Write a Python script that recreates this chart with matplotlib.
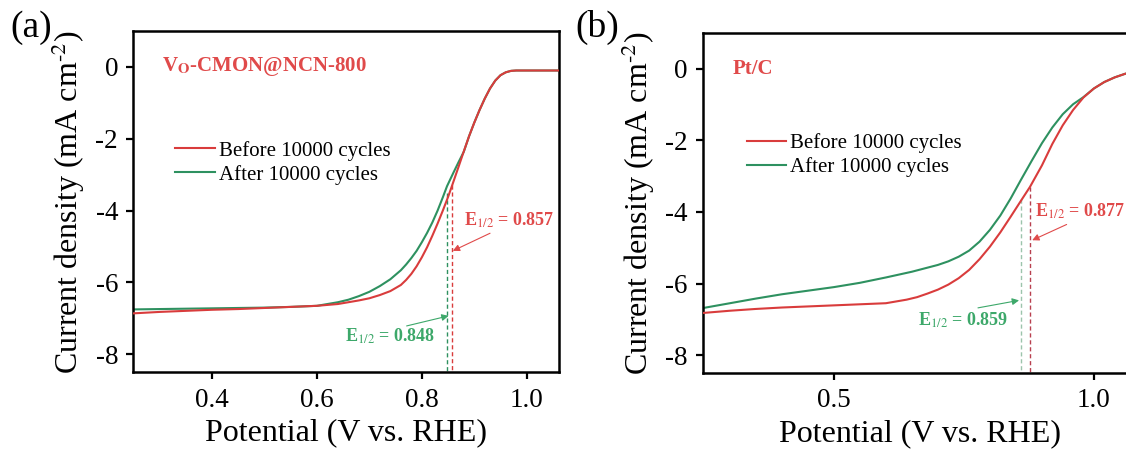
import matplotlib
matplotlib.use("Agg")
import matplotlib.pyplot as plt

plt.rcParams["font.family"] = ["Liberation Serif", "DejaVu Serif"]
plt.rcParams["mathtext.fontset"] = "stix"

RED = "#D93C3C"
GREEN = "#2E9160"
RED_TXT = "#E04A4A"
GREEN_TXT = "#3DA86A"

# (a) VO-CMON@NCN-800, LSV before / after 10000 cycles
a_v_before = [0.25, 0.30, 0.35, 0.40, 0.45, 0.50, 0.55, 0.60, 0.64, 0.68, 0.70, 0.72,
              0.74, 0.76, 0.77, 0.78, 0.79, 0.80, 0.81, 0.82, 0.83, 0.84, 0.85, 0.857,
              0.87, 0.88, 0.89, 0.90, 0.91, 0.92, 0.93, 0.94, 0.95, 0.96, 0.97, 0.98,
              1.00, 1.03, 1.062]
a_j_before = [-6.86, -6.82, -6.79, -6.76, -6.74, -6.71, -6.68, -6.65, -6.60, -6.50, -6.44, -6.35,
              -6.24, -6.07, -5.93, -5.76, -5.55, -5.30, -5.02, -4.70, -4.36, -4.00, -3.62, -3.33,
              -2.78, -2.35, -1.93, -1.55, -1.20, -0.88, -0.60, -0.38, -0.23, -0.15, -0.11, -0.10,
              -0.10, -0.10, -0.10]
a_v_after = [0.25, 0.30, 0.35, 0.40, 0.45, 0.50, 0.55, 0.60, 0.64, 0.66, 0.68, 0.70,
             0.72, 0.74, 0.76, 0.77, 0.78, 0.79, 0.80, 0.81, 0.82, 0.83, 0.84, 0.848,
             0.86, 0.87, 0.88, 0.89, 0.90, 0.91, 0.92, 0.93, 0.94, 0.95, 0.96, 0.97,
             0.98, 1.00, 1.03, 1.062]
a_j_after = [-6.75, -6.74, -6.73, -6.72, -6.71, -6.70, -6.68, -6.65, -6.55, -6.48, -6.38, -6.26,
             -6.10, -5.91, -5.66, -5.50, -5.32, -5.12, -4.88, -4.62, -4.33, -4.00, -3.63, -3.32,
             -2.95, -2.65, -2.36, -1.93, -1.55, -1.20, -0.88, -0.60, -0.38, -0.23, -0.15, -0.11,
             -0.10, -0.10, -0.10, -0.10]
a_e_half = {"before": 0.857, "after": 0.848}
a_drop_top = {"before": -3.3, "after": -3.5}

# (b) Pt/C
b_v_before = [0.25, 0.30, 0.35, 0.40, 0.45, 0.50, 0.55, 0.60, 0.64, 0.66, 0.68, 0.70,
              0.72, 0.74, 0.76, 0.78, 0.80, 0.82, 0.84, 0.86, 0.877, 0.90, 0.92, 0.94,
              0.96, 0.98, 1.00, 1.02, 1.04, 1.06, 1.083]
b_j_before = [-6.82, -6.76, -6.71, -6.67, -6.64, -6.61, -6.58, -6.55, -6.45, -6.38, -6.28, -6.17,
              -6.03, -5.85, -5.62, -5.32, -4.97, -4.57, -4.13, -3.68, -3.30, -2.70, -2.10, -1.58,
              -1.15, -0.80, -0.55, -0.37, -0.24, -0.14, -0.07]
b_v_after = [0.25, 0.30, 0.35, 0.40, 0.45, 0.50, 0.55, 0.60, 0.65, 0.70, 0.72, 0.74,
             0.76, 0.78, 0.80, 0.82, 0.84, 0.859, 0.88, 0.90, 0.92, 0.94, 0.96, 0.98,
             1.00, 1.02, 1.04, 1.06, 1.083]
b_j_after = [-6.68, -6.55, -6.42, -6.30, -6.20, -6.10, -5.98, -5.83, -5.67, -5.48, -5.38, -5.25,
             -5.08, -4.83, -4.50, -4.10, -3.62, -3.12, -2.58, -2.08, -1.64, -1.27, -0.99, -0.79,
             -0.55, -0.37, -0.24, -0.14, -0.07]
b_e_half = {"before": 0.877, "after": 0.859}
b_drop_top = {"before": -3.3, "after": -3.65}

Y_MIN, Y_MAX = -8.5, 1.0

fig = plt.figure(figsize=(11.26, 4.55), dpi=100)
ax_a = fig.add_axes([0.1184, 0.1818, 0.3783, 0.7501])
ax_b = fig.add_axes([0.6243, 0.1802, 0.3854, 0.7473])


def style_axes(ax, xlim, xticks):
    ax.set_xlim(*xlim)
    ax.set_ylim(Y_MIN, Y_MAX)
    ax.set_xticks(xticks)
    ax.set_yticks([0, -2, -4, -6, -8])
    ax.set_yticklabels(["0", "-2", "-4", "-6", "-8"])
    ax.tick_params(direction="out", length=5, width=1.6, labelsize=19.5, pad=6)
    for s in ax.spines.values():
        s.set_linewidth(1.8)
    ax.set_xlabel("Potential (V vs. RHE)", fontsize=23, labelpad=4)
    ax.set_ylabel(r"Current density (mA cm$^{\text{-}2}$)", fontsize=23, labelpad=6)


def draw_panel(ax, vb, jb, va, ja, e_half, drop_top, leg_xy, drop_colors):
    ax.plot(vb, jb, color=RED, lw=1.5, label="Before 10000 cycles", zorder=3)
    ax.plot(va, ja, color=GREEN, lw=1.5, label="After 10000 cycles", zorder=2)
    ax.plot([e_half["after"]] * 2, [drop_top["after"], Y_MIN], color=drop_colors[1],
            lw=1.0, ls=(0, (3, 2)), zorder=1)
    ax.plot([e_half["before"]] * 2, [drop_top["before"], Y_MIN], color=drop_colors[0],
            lw=1.0, ls=(0, (3, 2)), zorder=1)
    ax.legend(loc="center left", bbox_to_anchor=leg_xy, frameon=False, fontsize=15,
              handlelength=1.9, handletextpad=0.2, labelspacing=0.2,
              borderpad=0, borderaxespad=0)


def e_label(ax, txt_xy, tail, head, value, color):
    ax.text(txt_xy[0], txt_xy[1], "E$_{1/2}$ = %.3f" % value, color=color,
            fontsize=13, fontweight="bold", va="center", ha="left", clip_on=False)
    ax.annotate("", xy=head, xytext=tail,
                arrowprops=dict(arrowstyle="-|>", color=color, lw=0.8,
                                mutation_scale=10, shrinkA=0, shrinkB=0))


# panel (a)
style_axes(ax_a, (0.25, 1.062), [0.4, 0.6, 0.8, 1.0])
draw_panel(ax_a, a_v_before, a_j_before, a_v_after, a_j_after,
           a_e_half, a_drop_top, (0.098, 0.614), (RED, GREEN))
ax_a.text(0.0667, 0.895, r"V$_{\mathbf{O}}$-CMON@NCN-800", transform=ax_a.transAxes,
          color=RED_TXT, fontsize=15, fontweight="bold", va="center")
e_label(ax_a, (0.8806, -4.26), (0.930, -4.63), (0.859, -5.12), a_e_half["before"], RED_TXT)
e_label(ax_a, (0.654, -7.51), (0.771, -7.21), (0.851, -6.93), a_e_half["after"], GREEN_TXT)
fig.text(0.009, 0.94, "(a)", fontsize=27, va="center", ha="left")

# panel (b)
style_axes(ax_b, (0.2481, 1.0827), [0.5, 1.0])
draw_panel(ax_b, b_v_before, b_j_before, b_v_after, b_j_after,
           b_e_half, b_drop_top, (0.1007, 0.641), ("#B8404F", "#9CC4AC"))
ax_b.text(0.069, 0.894, "Pt/C", transform=ax_b.transAxes,
          color=RED_TXT, fontsize=15, fontweight="bold", va="center")
e_label(ax_b, (0.8865, -3.98), (0.9475, -4.35), (0.8813, -4.79), b_e_half["before"], RED_TXT)
e_label(ax_b, (0.6615, -7.03), (0.777, -6.68), (0.856, -6.47), b_e_half["after"], GREEN_TXT)
fig.text(0.511, 0.94, "(b)", fontsize=27, va="center", ha="left")

fig.savefig("out.png", dpi=100)
plt.close(fig)
